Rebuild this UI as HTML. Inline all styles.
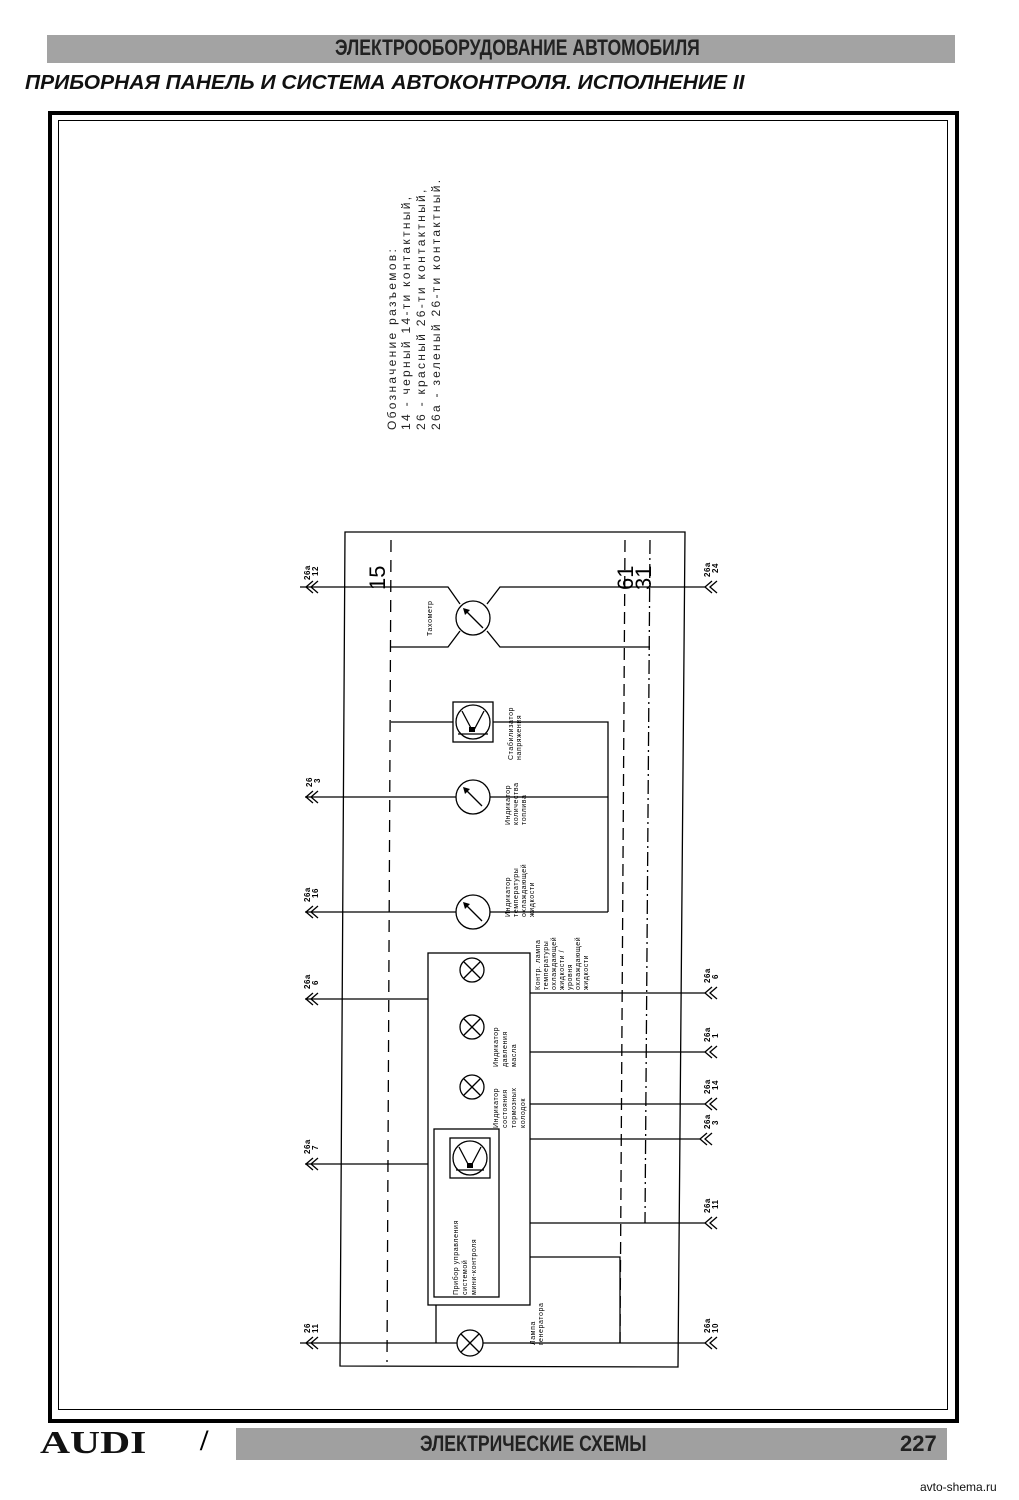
<!DOCTYPE html>
<html><head><meta charset="utf-8"><style>
html,body{margin:0;padding:0;background:#fff;}
body{width:1019px;height:1500px;position:relative;overflow:hidden;font-family:"Liberation Sans",sans-serif;}
.band{position:absolute;background:#9a9a9a;}
</style></head><body>
<div class="band" style="left:47px;top:35px;width:908px;height:28px;background:#a3a3a3;"></div>
<div style="position:absolute;left:290px;top:35px;width:450px;text-align:center;font:bold 22px 'Liberation Sans',sans-serif;color:#222;transform:scaleX(0.8);transform-origin:center;white-space:nowrap;">ЭЛЕКТРООБОРУДОВАНИЕ АВТОМОБИЛЯ</div>
<div style="position:absolute;left:25px;top:72px;font:italic bold 20px 'Liberation Sans',sans-serif;color:#111;transform:scaleX(1.05);transform-origin:left;white-space:nowrap;">ПРИБОРНАЯ ПАНЕЛЬ И СИСТЕМА АВТОКОНТРОЛЯ. ИСПОЛНЕНИЕ II</div>
<div style="position:absolute;left:48px;top:111px;width:903px;height:1304px;border:4px solid #000;"></div>
<div style="position:absolute;left:58px;top:120px;width:888px;height:1288px;border:1px solid #000;"></div>
<div style="position:absolute;left:40px;top:1424px;font:bold 32px 'Liberation Serif',serif;color:#111;transform:scaleX(1.3);transform-origin:left;">AUDI</div>
<div style="position:absolute;left:200px;top:1424px;font:bold 30px 'Liberation Serif',serif;">/</div>
<div class="band" style="left:236px;top:1428px;width:711px;height:32px;background:#a0a0a0;"></div>
<div style="position:absolute;left:420px;top:1431px;font:bold 22px 'Liberation Sans',sans-serif;color:#222;transform:scaleX(0.8);transform-origin:left;white-space:nowrap;">ЭЛЕКТРИЧЕСКИЕ СХЕМЫ</div>
<div style="position:absolute;left:900px;top:1431px;font:bold 22px 'Liberation Sans',sans-serif;color:#222;">227</div>
<div style="position:absolute;left:920px;top:1480px;font:12px 'Liberation Sans',sans-serif;color:#111;">avto-shema.ru</div>

<svg width="1019" height="1500" style="position:absolute;left:0;top:0" font-family="Liberation Sans, sans-serif">
<g fill="#222" font-size="12" letter-spacing="2.3">
<text transform="translate(396,430) rotate(-90)">Обозначение разъемов:</text>
<text transform="translate(410,430) rotate(-90)">14 - черный 14-ти контактный,</text>
<text transform="translate(425,430) rotate(-90)">26 - красный 26-ти контактный,</text>
<text transform="translate(440,430) rotate(-90)">26а - зеленый 26-ти контактный.</text>
</g>
<g stroke="#000" stroke-width="1.3" fill="none">
<polygon points="345,532 685,532 678,1367 340,1366"/>
<line x1="391" y1="540" x2="387" y2="1362" stroke-dasharray="12,8"/>
<line x1="625" y1="540" x2="620" y2="1343" stroke-dasharray="12,6"/>
<line x1="650" y1="540" x2="645" y2="1223" stroke-dasharray="14,4,2,4"/>
<polyline points="300,587 448,587 460,604"/>
<polyline points="705,587 500,587 487,604"/>
<polyline points="391,647 448,647 460,631"/>
<polyline points="650,647 500,647 487,631"/>
<circle cx="473" cy="618" r="17"/>
<line x1="483" y1="628" x2="465" y2="610"/>
<rect x="453" y="702" width="40" height="40"/>
<circle cx="473" cy="722" r="17"/>
<line x1="458" y1="734" x2="488" y2="734"/>
<line x1="462" y1="711" x2="472" y2="730"/><line x1="484" y1="711" x2="474" y2="730"/>
<polyline points="391,722 453,722"/><polyline points="493,722 608,722 608,912"/>
<line x1="305" y1="797" x2="456" y2="797"/><line x1="490" y1="797" x2="608" y2="797"/>
<circle cx="473" cy="797" r="17"/><line x1="482" y1="806" x2="465" y2="789"/>
<line x1="305" y1="912" x2="456" y2="912"/><line x1="490" y1="912" x2="608" y2="912"/>
<circle cx="473" cy="912" r="17"/><line x1="482" y1="921" x2="465" y2="904"/>
<rect x="428" y="953" width="102" height="352"/>
<rect x="434" y="1129" width="65" height="168"/>
<rect x="450" y="1138" width="40" height="40"/>
<circle cx="470" cy="1158" r="17"/><line x1="456" y1="1170" x2="484" y2="1170"/>
<line x1="459" y1="1147" x2="469" y2="1166"/><line x1="481" y1="1147" x2="471" y2="1166"/>
<line x1="305" y1="999" x2="428" y2="999"/>
<line x1="305" y1="1164" x2="428" y2="1164"/>
<line x1="530" y1="993" x2="705" y2="993"/>
<line x1="530" y1="1052" x2="705" y2="1052"/>
<line x1="530" y1="1104" x2="705" y2="1104"/>
<line x1="530" y1="1139" x2="700" y2="1139"/>
<line x1="530" y1="1223" x2="705" y2="1223"/>
<polyline points="530,1257 620,1257 620,1343"/>
<line x1="300" y1="1343" x2="457" y2="1343"/><line x1="483" y1="1343" x2="705" y2="1343"/>
<line x1="436" y1="1305" x2="436" y2="1343"/>
<g>
<circle cx="472" cy="970" r="12"/><line x1="464" y1="962" x2="480" y2="978"/><line x1="480" y1="962" x2="464" y2="978"/>
<circle cx="472" cy="1027" r="12"/><line x1="464" y1="1019" x2="480" y2="1035"/><line x1="480" y1="1019" x2="464" y2="1035"/>
<circle cx="472" cy="1087" r="12"/><line x1="464" y1="1079" x2="480" y2="1095"/><line x1="480" y1="1079" x2="464" y2="1095"/>
<circle cx="470" cy="1343" r="13"/><line x1="461" y1="1334" x2="479" y2="1352"/><line x1="479" y1="1334" x2="461" y2="1352"/>
</g>
<g>
<polyline points="313,581 306,587 313,593"/><polyline points="318,581 311,587 318,593"/>
<polyline points="313,791 306,797 313,803"/><polyline points="318,791 311,797 318,803"/>
<polyline points="313,906 306,912 313,918"/><polyline points="318,906 311,912 318,918"/>
<polyline points="313,993 306,999 313,1005"/><polyline points="318,993 311,999 318,1005"/>
<polyline points="313,1158 306,1164 313,1170"/><polyline points="318,1158 311,1164 318,1170"/>
<polyline points="313,1337 306,1343 313,1349"/><polyline points="318,1337 311,1343 318,1349"/>
</g>
<g>
<polyline points="712,581 705,587 712,593"/><polyline points="717,581 710,587 717,593"/>
<polyline points="712,987 705,993 712,999"/><polyline points="717,987 710,993 717,999"/>
<polyline points="712,1046 705,1052 712,1058"/><polyline points="717,1046 710,1052 717,1058"/>
<polyline points="712,1098 705,1104 712,1110"/><polyline points="717,1098 710,1104 717,1110"/>
<polyline points="707,1133 700,1139 707,1145"/><polyline points="712,1133 705,1139 712,1145"/>
<polyline points="712,1217 705,1223 712,1229"/><polyline points="717,1217 710,1223 717,1229"/>
<polyline points="712,1337 705,1343 712,1349"/><polyline points="717,1337 710,1343 717,1349"/>
</g>
</g>
<g fill="#000">
<polygon points="463,608 470,610 465,615"/>
<polygon points="463,787 470,789 465,794"/>
<polygon points="463,902 470,904 465,909"/>
<rect x="469" y="727" width="6" height="5"/>
<rect x="467" y="1163" width="6" height="5"/>
</g>
<g fill="#000" font-size="22">
<text transform="translate(385,590) rotate(-90)">15</text>
<text transform="translate(633,590) rotate(-90)">61</text>
<text transform="translate(651,590) rotate(-90)">31</text>
</g>
<g fill="#000" font-size="8" font-weight="bold" letter-spacing="0.5">
<text transform="translate(310,580) rotate(-90)">26а</text><text transform="translate(318,576) rotate(-90)">12</text>
<text transform="translate(312,787) rotate(-90)">26</text><text transform="translate(320,783) rotate(-90)">3</text>
<text transform="translate(310,902) rotate(-90)">26а</text><text transform="translate(318,898) rotate(-90)">16</text>
<text transform="translate(310,989) rotate(-90)">26а</text><text transform="translate(318,985) rotate(-90)">6</text>
<text transform="translate(310,1154) rotate(-90)">26а</text><text transform="translate(318,1150) rotate(-90)">7</text>
<text transform="translate(310,1333) rotate(-90)">26</text><text transform="translate(318,1333) rotate(-90)">11</text>
<text transform="translate(710,577) rotate(-90)">26а</text><text transform="translate(718,573) rotate(-90)">24</text>
<text transform="translate(710,983) rotate(-90)">26а</text><text transform="translate(718,979) rotate(-90)">6</text>
<text transform="translate(710,1042) rotate(-90)">26а</text><text transform="translate(718,1038) rotate(-90)">1</text>
<text transform="translate(710,1094) rotate(-90)">26а</text><text transform="translate(718,1090) rotate(-90)">14</text>
<text transform="translate(710,1129) rotate(-90)">26а</text><text transform="translate(718,1125) rotate(-90)">3</text>
<text transform="translate(710,1213) rotate(-90)">26а</text><text transform="translate(718,1209) rotate(-90)">11</text>
<text transform="translate(710,1333) rotate(-90)">26а</text><text transform="translate(718,1333) rotate(-90)">10</text>
</g>
<g fill="#000" font-size="7" letter-spacing="0.6">
<text transform="translate(432,636) rotate(-90)">Тахометр</text>
<text transform="translate(513,760) rotate(-90)">Стабилизатор</text>
<text transform="translate(521,760) rotate(-90)">напряжения</text>
<text transform="translate(510,825) rotate(-90)">Индикатор</text>
<text transform="translate(518,825) rotate(-90)">количества</text>
<text transform="translate(526,825) rotate(-90)">топлива</text>
<text transform="translate(510,917) rotate(-90)">Индикатор</text>
<text transform="translate(518,917) rotate(-90)">температуры</text>
<text transform="translate(526,917) rotate(-90)">охлаждающей</text>
<text transform="translate(534,917) rotate(-90)">жидкости</text>
<text transform="translate(540,990) rotate(-90)">Контр. лампа</text>
<text transform="translate(548,990) rotate(-90)">температуры</text>
<text transform="translate(556,990) rotate(-90)">охлаждающей</text>
<text transform="translate(564,990) rotate(-90)">жидкости /</text>
<text transform="translate(572,990) rotate(-90)">уровня</text>
<text transform="translate(580,990) rotate(-90)">охлаждающей</text>
<text transform="translate(588,990) rotate(-90)">жидкости</text>
<text transform="translate(498,1067) rotate(-90)">Индикатор</text>
<text transform="translate(507,1067) rotate(-90)">давления</text>
<text transform="translate(516,1067) rotate(-90)">масла</text>
<text transform="translate(498,1128) rotate(-90)">Индикатор</text>
<text transform="translate(507,1128) rotate(-90)">состояния</text>
<text transform="translate(516,1128) rotate(-90)">тормозных</text>
<text transform="translate(525,1128) rotate(-90)">колодок</text>
<text transform="translate(458,1295) rotate(-90)">Прибор управления</text>
<text transform="translate(467,1295) rotate(-90)">системой</text>
<text transform="translate(476,1295) rotate(-90)">мини-контроля</text>
<text transform="translate(535,1345) rotate(-90)">Лампа</text>
<text transform="translate(543,1345) rotate(-90)">генератора</text>
</g>
</svg>
</body></html>
